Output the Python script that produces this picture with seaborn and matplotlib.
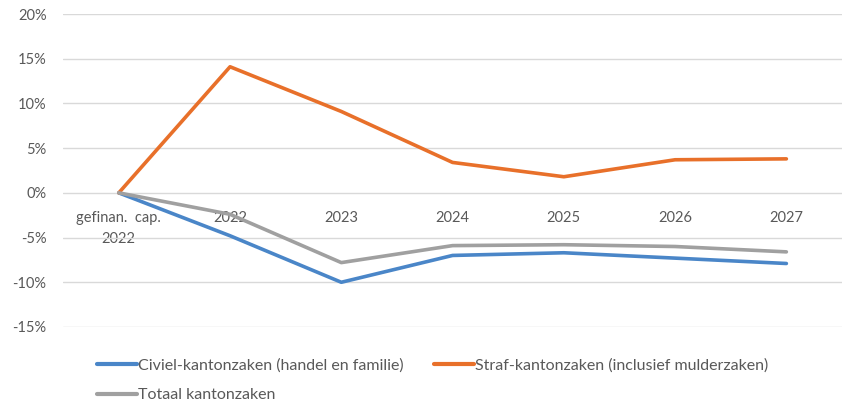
import matplotlib
matplotlib.use("Agg")
import matplotlib.pyplot as plt
import matplotlib.ticker as mticker
from matplotlib.lines import Line2D
import seaborn as sns
import pandas as pd

categories = ["gefinan.  cap.\n2022", "2022", "2023", "2024", "2025", "2026", "2027"]
civiel = [0.0, -4.8, -10.0, -7.0, -6.7, -7.3, -7.9]
straf = [0.0, 14.1, 9.1, 3.4, 1.8, 3.7, 3.8]
totaal = [0.0, -2.4, -7.8, -5.9, -5.8, -6.0, -6.6]

names = ["Civiel-kantonzaken (handel en familie)",
         "Straf-kantonzaken (inclusief mulderzaken)",
         "Totaal kantonzaken"]
colors = ["#4A86C8", "#E8702A", "#A0A0A0"]
y_ticks = [-15, -10, -5, 0, 5, 10, 15, 20]

rows = []
for name, vals in zip(names, [civiel, straf, totaal]):
    for i, v in enumerate(vals):
        rows.append({"pos": i, "value": v / 100.0, "serie": name})
df = pd.DataFrame(rows)

sns.set_theme(style="white")
plt.rcParams["font.family"] = ["Lato", "DejaVu Sans"]
text_color = "#595959"

fig = plt.figure(figsize=(8.42, 4.07), dpi=100)
ax = fig.add_axes([0.075, 0.1966, 0.925, 0.769])

sns.lineplot(data=df, x="pos", y="value", hue="serie", hue_order=names,
             palette=colors, linewidth=2.6, ax=ax, legend=False)

ax.set_xlim(-0.5, len(categories) - 0.5)
ax.set_ylim(-0.15, 0.20)
ax.set_yticks([t / 100.0 for t in y_ticks])
ax.yaxis.set_major_formatter(mticker.FuncFormatter(lambda v, p: f"{v*100:.0f}%"))
ax.grid(axis="y", color="#D9D9D9", linewidth=1.0)
ax.grid(axis="x", visible=False)
ax.set_axisbelow(True)

for s in ["top", "right", "left"]:
    ax.spines[s].set_visible(False)
ax.spines["bottom"].set_position(("data", 0))
ax.spines["bottom"].set_visible(False)

ax.set_xticks(range(len(categories)))
ax.set_xticklabels(categories, linespacing=1.6)
ax.tick_params(axis="x", length=0, pad=13, labelsize=10.5, labelcolor=text_color)
ax.tick_params(axis="y", length=0, pad=12, labelsize=10.5, labelcolor=text_color)
ax.set_xlabel("")
ax.set_ylabel("")

handles = [Line2D([], [], color=c, linewidth=3) for c in colors]
order = [0, 2, 1]
leg = fig.legend([handles[i] for i in order], [names[i] for i in order],
                 ncol=2, loc="lower left", bbox_to_anchor=(0.104, -0.012),
                 frameon=False, handlelength=2.5, fontsize=11.5,
                 handletextpad=0.05, columnspacing=1.9, labelspacing=0.99,
                 borderaxespad=0.2)
for t in leg.get_texts():
    t.set_color(text_color)

fig.savefig("out.png", dpi=100)
